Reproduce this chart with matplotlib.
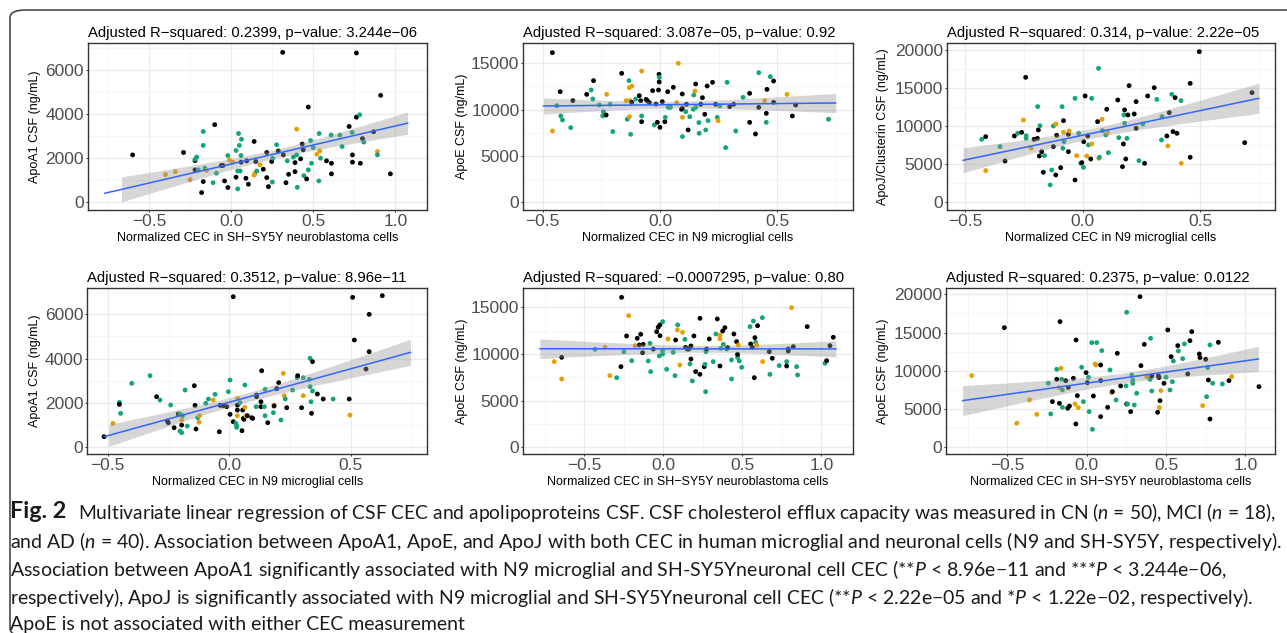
import numpy as np
import matplotlib
matplotlib.use("Agg")
import matplotlib.pyplot as plt
from matplotlib.patches import FancyBboxPatch

W, H = 1287, 633
BLACK, GREEN, ORANGE = "#000000", "#12A57B", "#E69F00"
CMAP = {"k": BLACK, "g": GREEN, "o": ORANGE}

# ---------------- data ----------------
# Panel 1: SH-SY5Y CEC vs ApoA1
p1_x = [-0.60,-0.40,-0.34,-0.29,-0.25,-0.22,-0.22,-0.21,-0.22,-0.20,-0.18,-0.17,-0.17,-0.17,-0.16,-0.15,
        -0.11,-0.10,-0.09,-0.06,-0.05,-0.04,-0.02,-0.02,-0.01,0.01,0.03,0.03,0.04,0.045,0.05,0.055,0.04,
        0.06,0.063,0.06,0.09,0.095,0.105,0.14,0.15,0.146,0.14,0.156,0.176,0.196,0.217,0.217,0.227,0.247,
        0.251,0.253,0.277,0.287,0.314,0.318,0.334,0.342,0.350,0.379,0.389,0.389,0.399,0.399,0.403,0.423,
        0.433,0.439,0.443,0.460,0.470,0.470,0.484,0.490,0.500,0.522,0.540,0.536,0.534,0.545,0.581,0.609,
        0.611,0.611,0.662,0.676,0.719,0.737,0.739,0.739,0.763,0.763,0.783,0.787,0.800,0.808,0.868,0.891,
        0.891,0.911,0.970]
p1_y = [2150,1260,1390,2260,1020,1890,1950,2050,1470,1470,440,2580,3210,940,1550,1440,
        890,3520,1320,1670,1670,970,2120,670,1920,1820,1140,2350,610,3120,2580,1420,1420,
        2120,2860,1820,1090,1880,820,2760,1850,1320,1230,1420,1700,1500,1120,2260,710,1850,
        920,2000,2610,2330,6800,2150,890,1880,1270,2050,1800,1390,3320,2150,680,1970,
        2640,2380,1210,1060,4320,1470,2800,1770,2480,2180,2330,3120,970,2000,1880,3050,
        1770,1290,3050,2530,3440,3170,2150,1820,3860,6770,3970,1770,2890,2730,3200,2300,
        2150,4850,1290]
p1_c = list("kookokggkg" "kggkgogkgk" "kkgkookggg" "gggggkkkkk" "koogokkkkk"
            "gggkkkkgkg" "kkoggkkkgk" "kggggooggg" "kgkkggkgkk" "kkgkkgkogkk")

# Panel 2: N9 CEC vs ApoE
p2_x = [-0.458,-0.458,-0.439,-0.425,-0.422,-0.415,-0.371,-0.380,-0.312,-0.293,-0.283,-0.286,-0.258,-0.244,
        -0.241,-0.229,-0.227,-0.212,-0.201,-0.163,-0.144,-0.139,-0.132,-0.130,-0.127,-0.130,-0.125,-0.120,
        -0.120,-0.103,-0.088,-0.082,-0.078,-0.078,-0.078,-0.059,-0.054,-0.045,-0.031,-0.024,-0.017,-0.011,
        -0.006,-0.004,-0.003,-0.003,0.0,0.010,0.021,0.023,0.033,0.035,0.045,0.057,0.071,0.078,0.092,0.095,
        0.095,0.096,0.096,0.110,0.113,0.120,0.127,0.142,0.144,0.149,0.152,0.153,0.166,0.167,0.174,0.181,
        0.191,0.195,0.201,0.205,0.224,0.237,0.244,0.248,0.255,0.286,0.280,0.297,0.314,0.323,0.354,0.382,
        0.382,0.407,0.421,0.421,0.446,0.453,0.453,0.456,0.470,0.484,0.484,0.541,0.564,0.578,0.718]
p2_y = [16150,7700,10430,11940,9320,8880,10970,8060,11650,12120,13130,11150,10500,9320,
        9780,9420,11650,10580,7630,13920,10970,8960,13130,12370,10970,9240,7340,12550,
        10790,11150,11510,10970,14170,9320,8700,11110,10970,10760,12050,8350,10610,8630,
        12120,13810,13490,12990,8090,10860,8700,9170,11940,10250,10250,12410,10760,15000,10040,11690,
        10140,9170,7090,9780,10580,7810,9240,10040,11580,12010,12770,10250,8600,7450,10580,11290,
        9500,7810,12550,8810,12950,10580,9170,8810,10400,12950,5900,10320,10580,7700,11330,11760,
        8630,7370,13990,10250,10970,9600,8630,12190,13560,13090,10790,11650,9320,10500,8960]
p2_c = list("kogkggkgkg" "kggggkoggk" "oggooogokg" "kkogkkkkkg" "kkkkgkkkkg"
            "kggkookkko" "ggkkgggokg" "ggkkkgkgkk" "gogggkkggk" "kkgkokgkgk" "kokkg")

# Panel 3: N9 CEC vs ApoJ
p3_x = [-0.430,-0.413,-0.413,-0.352,-0.331,-0.291,-0.277,-0.260,-0.253,-0.243,-0.241,-0.241,-0.220,-0.207,
        -0.193,-0.192,-0.189,-0.185,-0.182,-0.175,-0.168,-0.163,-0.139,-0.132,-0.125,-0.125,-0.114,-0.115,
        -0.111,-0.094,-0.088,-0.085,-0.082,-0.082,-0.080,-0.061,-0.061,-0.058,-0.033,-0.033,-0.026,-0.017,
        -0.009,-0.004,0.003,0.004,0.010,0.017,0.021,0.024,0.034,0.038,0.038,0.067,0.063,0.068,0.071,0.082,
        0.084,0.102,0.098,0.105,0.109,0.149,0.153,0.169,0.173,0.175,0.178,0.178,0.183,0.188,0.192,0.197,
        0.219,0.227,0.227,0.239,0.256,0.263,0.276,0.304,0.315,0.335,0.337,0.358,0.362,0.368,0.379,0.384,
        0.393,0.401,0.418,0.419,0.457,0.457,0.496,0.689,0.720]
p3_y = [8270,8620,4160,7310,5430,8710,9060,9190,10810,16410,8750,8400,7090,8270,
        8400,12560,9500,6080,10060,6650,3940,6130,2280,4240,7310,10020,10280,3590,
        8800,4550,12560,7090,10720,9190,7960,6650,8930,9360,2930,13650,6130,9060,
        5120,5210,4590,7960,13960,6080,8710,7530,5690,13650,7660,17590,10590,5780,5910,10900,
        9410,12210,8840,9150,6520,13430,8490,4680,7660,11470,12120,10370,5690,8400,11470,15320,
        11600,13220,9710,5470,10280,5120,13960,15050,13520,8180,11250,8710,7400,11770,14180,9280,
        13740,9060,13350,5120,5910,15620,19780,7830,14400]
p3_c = list("gkogkkgkok" "ggokkgkkgk" "kgggkgokkk" "ggkogkkokg" "oggkgkkokg"
            "kgogkogogk" "gogkgkkgkg" "kgkkkkkggk" "kkgggkokgk" "kkgokkkkk")

# Panel 4: N9 CEC vs ApoA1
p4_x = [-0.515,-0.479,-0.452,-0.452,-0.447,-0.401,-0.326,-0.299,-0.285,-0.255,-0.251,-0.241,-0.227,-0.210,
        -0.203,-0.203,-0.196,-0.196,-0.196,-0.192,-0.182,-0.173,-0.144,-0.141,-0.137,-0.130,-0.125,-0.123,
        -0.097,-0.086,-0.066,-0.059,-0.041,-0.038,-0.025,-0.011,-0.004,0.003,0.003,0.016,0.016,0.027,0.030,
        0.030,0.033,0.033,0.033,0.034,0.044,0.052,0.055,0.058,0.060,0.064,0.064,0.068,0.074,0.092,0.096,
        0.110,0.112,0.112,0.130,0.130,0.133,0.144,0.147,0.147,0.158,0.181,0.184,0.184,0.195,0.203,0.212,
        0.222,0.226,0.230,0.236,0.260,0.279,0.281,0.297,0.304,0.304,0.329,0.332,0.332,0.336,0.338,0.342,
        0.342,0.362,0.386,0.427,0.493,0.496,0.507,0.514,0.562,0.575,0.575,0.629]
p4_y = [454,1058,2011,1920,1512,2873,3221,2268,2117,1164,1089,1890,862,1482,
        1482,711,635,983,1210,1406,2570,937,2767,1875,801,1315,1104,1406,
        1966,2162,2117,2374,680,1875,1860,1814,2495,3024,1467,6804,1134,1058,937,
        877,1663,1406,1890,2192,1996,726,1663,1285,1240,2797,1784,1406,1406,1315,1285,
        1814,2268,2343,1814,2041,3447,1814,1406,2600,1089,1542,1890,1845,2631,2903,1210,
        3326,2313,2162,1769,2570,3130,3221,1769,2313,3130,3054,2722,4007,2041,1512,3856,
        2525,2389,2162,2162,2162,1436,6774,4838,3523,6003,4309,6849]
p4_c = list("kogkgggkgk" "kgkkgggkog" "ggkkkgoogg" "ogkkkkggkk" "kgggkokogk"
            "kkkgookkkg" "kkkkkgggkg" "okkkgoogkg" "gkkogggggk" "kgkkgkokkk" "kkk")

# Panel 5: SH-SY5Y CEC vs ApoE
p5_x = [-0.690,-0.643,-0.643,-0.432,-0.369,-0.338,-0.295,-0.268,-0.264,-0.249,-0.232,-0.219,-0.200,-0.179,
        -0.165,-0.152,-0.143,-0.131,-0.127,-0.095,-0.084,-0.080,-0.063,-0.042,-0.032,-0.025,-0.021,-0.021,
        -0.004,-0.004,-0.004,0.021,0.030,0.063,0.074,0.078,0.089,0.091,0.105,0.122,0.137,0.141,0.152,0.162,
        0.169,0.175,0.175,0.184,0.194,0.205,0.232,0.232,0.259,0.264,0.268,0.270,0.274,0.291,0.316,0.333,
        0.342,0.359,0.359,0.359,0.365,0.376,0.380,0.390,0.401,0.407,0.432,0.432,0.447,0.464,0.470,0.470,
        0.475,0.481,0.496,0.549,0.553,0.563,0.570,0.576,0.580,0.584,0.591,0.597,0.627,0.629,0.671,0.675,
        0.690,0.734,0.781,0.781,0.791,0.791,0.812,0.823,0.844,0.850,0.911,1.023,1.034,1.055,1.076]
p5_y = [9180,9640,7320,10500,10710,7680,7460,8640,16070,10250,11930,14110,9280,10890,
        11680,10960,12110,10140,11030,9250,11140,8110,10530,12390,12860,9790,13110,11960,
        13460,10360,10000,8360,11610,10180,7680,11500,12570,13110,8820,12320,11570,10710,10530,10530,
        8930,9460,10860,7110,11930,8110,13820,7820,8640,8890,5960,10250,10530,11610,9180,12140,
        13750,8710,12030,11610,10610,12460,11030,12820,10530,10680,9360,7320,12140,11320,9640,9960,
        10960,9250,8570,12930,11070,10710,13530,7460,11750,11250,10960,13030,13890,9180,10250,7820,
        9540,8750,9180,8710,10530,10320,14960,10780,8640,7750,12930,9000,9280,10890,11790]
p5_c = list("okogoogkkg" "kogokkkkkg" "ggkkkgkkgg" "ggoggkogoo" "gkkkgkkgkk"
            "kkkgggkkgg" "kkoogkgkgk" "ggkkgkoggg" "kkgkkgokgo" "kgkggkkkok" "ggkgkkk")

# Panel 6: SH-SY5Y CEC vs ApoJ
p6_x = [-0.725,-0.519,-0.441,-0.361,-0.315,-0.242,-0.227,-0.216,-0.189,-0.189,-0.174,-0.172,-0.168,-0.162,
        -0.158,-0.153,-0.153,-0.132,-0.116,-0.120,-0.109,-0.084,-0.074,-0.069,-0.067,-0.059,-0.053,-0.032,
        -0.021,-0.004,0.004,0.011,0.015,0.032,0.036,0.042,0.053,0.059,0.063,0.088,0.088,0.088,0.095,0.132,
        0.147,0.158,0.162,0.185,0.193,0.214,0.252,0.248,0.252,0.258,0.277,0.284,0.290,0.290,0.300,0.315,
        0.336,0.342,0.363,0.378,0.399,0.403,0.410,0.410,0.447,0.452,0.456,0.458,0.462,0.468,0.487,0.500,
        0.511,0.525,0.532,0.540,0.546,0.574,0.578,0.605,0.616,0.637,0.651,0.662,0.710,0.714,0.731,0.750,
        0.756,0.763,0.767,0.777,0.777,0.794,0.830,0.855,0.897,0.914,1.086]
p6_y = [9370,15640,3140,6190,4310,8370,4360,5970,10200,8890,7800,5750,16430,10330,
        8890,7490,5230,8710,7840,5100,5400,9020,5660,3050,14030,6750,5180,10460,
        5970,9760,8450,9150,4660,13680,2350,6710,10890,10760,13680,10760,8710,4010,12640,5230,
        10110,7150,7280,6190,12290,8020,17650,8020,5660,5660,4660,9450,8800,8370,5530,7060,
        19690,10670,13460,9240,8890,14250,9320,7360,4570,9320,9110,5180,6100,7410,8370,9150,
        15340,7490,11850,8580,11280,13290,12590,11590,13510,9590,13940,15120,12200,11720,5450,11500,
        6620,10410,8800,13380,3700,8370,13720,8280,8710,9240,7930]
p6_c = list("okoooggkgk" "okkogggkkk" "kkokkkoggk" "kggggkoogk" "kkgkgokgkk"
            "ggkgkggggg" "kkkoggkgkk" "kokokgkgkg" "gkgggkkkkk" "okggkgkgkg" "kok")

# smooth-line end points (x0, x1), (y0, y1)
fit_x = [(-0.77, 1.075), (-0.496, 0.748), (-0.509, 0.749), (-0.515, 0.745), (-0.781, 1.093), (-0.782, 1.082)]
fit_y = [(409, 3590), (10395, 10719), (5514, 13653), (454, 4279), (10560, 10540), (6100, 11546)]

titles = ["Adjusted R\u2212squared: 0.2399, p\u2212value: 3.244e\u221206",
          "Adjusted R\u2212squared: 3.087e\u221205, p\u2212value: 0.92",
          "Adjusted R\u2212squared: 0.314, p\u2212value: 2.22e\u221205",
          "Adjusted R\u2212squared: 0.3512, p\u2212value: 8.96e\u221211",
          "Adjusted R\u2212squared: \u22120.0007295, p\u2212value: 0.80",
          "Adjusted R\u2212squared: 0.2375, p\u2212value: 0.0122"]
xlab_sh = "Normalized CEC in SH\u2212SY5Y neuroblastoma cells"
xlab_n9 = "Normalized CEC in N9 microglial cells"
xlabels = [xlab_sh, xlab_n9, xlab_n9, xlab_n9, xlab_sh, xlab_sh]
ylabels = ["ApoA1 CSF (ng/mL)", "ApoE CSF (ng/mL)", "ApoJ/Clusterin CSF (ng/mL)",
           "ApoA1 CSF (ng/mL)", "ApoE CSF (ng/mL)", "ApoE CSF (ng/mL)"]

xt_sh = [-0.5, 0.0, 0.5, 1.0]; xt_sh_lab = ["\u22120.5", "0.0", "0.5", "1.0"]
xt_n9 = [-0.5, 0.0, 0.5];      xt_n9_lab = ["\u22120.5", "0.0", "0.5"]
yt_a1 = [0, 2000, 4000, 6000]
yt_e = [0, 5000, 10000, 15000]
yt_j = [0, 5000, 10000, 15000, 20000]

panels = [
    dict(x=p1_x, y=p1_y, c=p1_c, box=(88, 427.3, 43.3, 210), xlim=(-0.872, 1.195), ylim=(-349, 7211),
         xt=(xt_sh, xt_sh_lab), yt=yt_a1, ylx=35),
    dict(x=p2_x, y=p2_y, c=p2_c, box=(523.3, 852.7, 43.3, 210), xlim=(-0.582, 0.821), ylim=(-831, 17160),
         xt=(xt_n9, xt_n9_lab), yt=yt_e, ylx=461.7),
    dict(x=p3_x, y=p3_y, c=p3_c, box=(946.7, 1275, 43.3, 210), xlim=(-0.579, 0.818), ylim=(-1011, 20877),
         xt=(xt_n9, xt_n9_lab), yt=yt_j, ylx=883),
    dict(x=p4_x, y=p4_y, c=p4_c, box=(87.3, 427.3, 288.3, 454), xlim=(-0.584, 0.814), ylim=(-331, 7184),
         xt=(xt_n9, xt_n9_lab), yt=yt_a1, ylx=35),
    dict(x=p5_x, y=p5_y, c=p5_c, box=(523.3, 852.7, 288.3, 454), xlim=(-0.886, 1.199), ylim=(-718, 17036),
         xt=(xt_sh, xt_sh_lab), yt=yt_e, ylx=461.7),
    dict(x=p6_x, y=p6_y, c=p6_c, box=(946, 1275, 288.3, 454), xlim=(-0.887, 1.187), ylim=(-876, 20784),
         xt=(xt_sh, xt_sh_lab), yt=yt_j, ylx=883),
]

caption_head = "Fig. 2"
caption_lines = [
    r"Multivariate linear regression of CSF CEC and apolipoproteins CSF. CSF cholesterol efflux capacity was measured in CN ($\mathit{n}$ = 50), MCI ($\mathit{n}$ = 18),",
    r"and AD ($\mathit{n}$ = 40). Association between ApoA1, ApoE, and ApoJ with both CEC in human microglial and neuronal cells (N9 and SH-SY5Y, respectively).",
    r"Association between ApoA1 significantly associated with N9 microglial and SH-SY5Yneuronal cell CEC (**$\mathit{P}$ < 8.96e" "\u2212" r"11 and ***$\mathit{P}$ < 3.244e" "\u2212" "06,",
    r"respectively), ApoJ is significantly associated with N9 microglial and SH-SY5Yneuronal cell CEC (**$\mathit{P}$ < 2.22e" "\u2212" r"05 and *$\mathit{P}$ < 1.22e" "\u2212" "02, respectively).",
    "ApoE is not associated with either CEC measurement",
]
caption_y = [510, 539, 567, 595, 623]

# ---------------- drawing ----------------
plt.rcParams["font.family"] = ["Liberation Sans", "DejaVu Sans"]
plt.rcParams["mathtext.fontset"] = "custom"
plt.rcParams["mathtext.rm"] = "Lato"
plt.rcParams["mathtext.it"] = "Lato:italic"
plt.rcParams["mathtext.bf"] = "Lato:bold"

fig = plt.figure(figsize=(W / 100, H / 100), dpi=100)
fig.patch.set_facecolor("white")


def fx(px):
    return px / W


def fy(py):
    return 1 - py / H


def minor_between(major, lo, hi):
    step = major[1] - major[0]
    ext = [major[0] - step] + list(major) + [major[-1] + step]
    mids = [(a + b) / 2 for a, b in zip(ext[:-1], ext[1:])]
    return [m for m in mids if lo <= m <= hi]


for i, p in enumerate(panels):
    l, r, t, b = p["box"]
    ax = fig.add_axes([fx(l), fy(b), fx(r) - fx(l), fy(t) - fy(b)])
    ax.set_xlim(*p["xlim"])
    ax.set_ylim(*p["ylim"])
    ax.set_facecolor("white")
    xt, xtl = p["xt"]
    ax.set_xticks(xt)
    ax.set_xticklabels(xtl)
    ax.set_yticks(p["yt"])
    ax.set_yticklabels([str(v) for v in p["yt"]])
    ax.set_xticks(minor_between(xt, *p["xlim"]), minor=True)
    ax.set_yticks(minor_between(p["yt"], *p["ylim"]), minor=True)
    ax.grid(which="major", color="#EBEBEB", lw=0.9)
    ax.grid(which="minor", color="#F2F2F2", lw=0.5)
    ax.set_axisbelow(True)
    ax.tick_params(which="major", length=1.6, width=0.7, color="#333333", labelsize=12.5,
                   labelcolor="#4D4D4D", pad=1.2)
    ax.tick_params(which="minor", length=0)
    for s in ax.spines.values():
        s.set_color("#333333")
        s.set_linewidth(1.0)

    xs = np.asarray(p["x"], float)
    ys = np.asarray(p["y"], float)
    cols = [CMAP[c] for c in p["c"]]
    ax.scatter(xs, ys, s=12, c=cols, linewidths=0, zorder=3)

    # linear fit with 95% confidence band
    x0, x1 = fit_x[i]
    y0, y1 = fit_y[i]
    gx = np.linspace(x0, x1, 200)
    line = np.interp(gx, [x0, x1], [y0, y1])
    n = len(xs)
    slope, icpt = np.polyfit(xs, ys, 1)
    resid = ys - (icpt + slope * xs)
    s2 = np.sum(resid ** 2) / (n - 2)
    sxx = np.sum((xs - xs.mean()) ** 2)
    se = np.sqrt(s2 * (1 / n + (gx - xs.mean()) ** 2 / sxx))
    lo = line - 1.984 * se
    hi = line + 1.984 * se
    keep = lo >= 0
    ax.fill_between(gx[keep], lo[keep], hi[keep], color="#999999", alpha=0.4, lw=0, zorder=4)
    ax.plot(gx, line, color="#3366FF", lw=1.1, zorder=5)

    # title, axis labels
    ax.text(0, 1 + 6 / (b - t), titles[i], transform=ax.transAxes, ha="left", va="baseline",
            fontsize=10.75, color="black")
    fig.text(fx((l + r) / 2), fy(b + 28), xlabels[i], ha="center", va="center", fontsize=9, color="black")
    fig.text(fx(p["ylx"]), fy((t + b) / 2), ylabels[i], ha="center", va="center", rotation=90,
             fontsize=9, color="black")

# frame (bottom edge sits just below the picture)
frame = FancyBboxPatch((fx(10), fy(636)), fx(1400) - fx(10), fy(10) - fy(636),
                       boxstyle="round,pad=0,rounding_size=0.012", transform=fig.transFigure,
                       fill=False, edgecolor="#3a3a3a", lw=1.1, clip_on=False)
fig.patches.append(frame)

# caption: line 2 sets the size; line 1 is fitted between "Fig. 2" and the right margin
renderer = fig.canvas.get_renderer()


def width_at(txt, fs):
    t = fig.text(0, 0, txt, fontsize=fs, family="Lato")
    w = t.get_window_extent(renderer).width
    t.remove()
    return w


cap_fs = 12 * (1269 / width_at(caption_lines[1], 12))
line1_fs = min(cap_fs, 12 * ((1277 - 79) / width_at(caption_lines[0], 12)))
fig.text(fx(10), fy(caption_y[0]), caption_head, ha="left", va="center_baseline",
         fontsize=cap_fs * 1.2, family="Lato", weight="bold", color="#1a1a1a")
for k, (line_txt, yy) in enumerate(zip(caption_lines, caption_y)):
    x0px = 78 if k == 0 else 10
    fig.text(fx(x0px), fy(yy), line_txt, ha="left", va="center_baseline",
             fontsize=line1_fs if k == 0 else cap_fs, family="Lato", color="#1a1a1a")

fig.savefig("out.png", dpi=100, facecolor="white")
